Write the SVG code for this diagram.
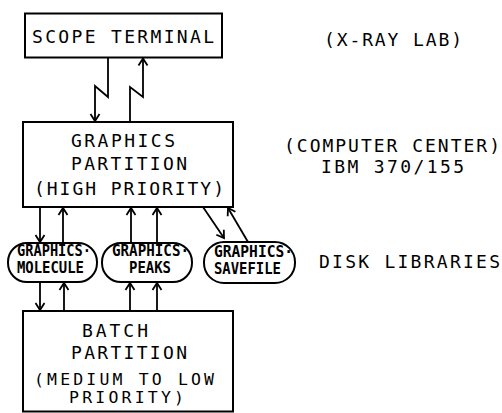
<svg xmlns="http://www.w3.org/2000/svg" width="502" height="413" viewBox="0 0 502 413">
<defs>
<style>
.box{fill:#fff;stroke:#000;stroke-width:2}
.ln{fill:none;stroke:#000;stroke-width:1.8}
.t{font-family:"DejaVu Sans Mono","Liberation Mono",monospace;font-size:18px;fill:#000}
.s{font-size:16.5px}
.p{font-family:"DejaVu Sans Mono","Liberation Mono",monospace;font-size:15px;fill:#000;font-weight:bold}
</style>
<marker id="a" viewBox="-8 -6 10 12" markerWidth="10" markerHeight="12" refX="0" refY="0" orient="auto" markerUnits="userSpaceOnUse">
<path d="M-7,-4.5 L0,0 L-7,4.5" fill="none" stroke="#000" stroke-width="1.8"/>
</marker>
</defs>
<rect width="502" height="413" fill="#fff"/>

<g id="connectors">
<polyline class="ln" points="108,57.5 108,97 95,86 95,121" marker-end="url(#a)"/>
<polyline class="ln" points="130,122 130,87 143,97 143,58.5" marker-end="url(#a)"/>
<line class="ln" x1="40" y1="207" x2="40" y2="242" marker-end="url(#a)"/>
<line class="ln" x1="63" y1="243" x2="63" y2="208" marker-end="url(#a)"/>
<line class="ln" x1="131" y1="243" x2="131" y2="208" marker-end="url(#a)"/>
<line class="ln" x1="157" y1="243" x2="157" y2="208" marker-end="url(#a)"/>
<line class="ln" x1="203" y1="207" x2="224" y2="238" marker-end="url(#a)"/>
<line class="ln" x1="248" y1="242" x2="228" y2="208" marker-end="url(#a)"/>
<line class="ln" x1="40" y1="282" x2="40" y2="310" marker-end="url(#a)"/>
<line class="ln" x1="64" y1="311" x2="64" y2="283" marker-end="url(#a)"/>
<line class="ln" x1="130" y1="311" x2="130" y2="283" marker-end="url(#a)"/>
<line class="ln" x1="157" y1="311" x2="157" y2="283" marker-end="url(#a)"/>
</g>

<g id="scope-terminal">
<rect class="box" x="25" y="13.5" width="197" height="44"/>
<text class="t" x="32" y="43" font-size="20" textLength="182">SCOPE TERMINAL</text>
</g>

<g id="graphics-partition">
<rect class="box" x="23" y="122" width="210" height="85"/>
<text class="t" x="71" y="147" textLength="104">GRAPHICS</text>
<text class="t" x="71" y="170" textLength="116">PARTITION</text>
<text class="t" x="34" y="195" textLength="190">(HIGH PRIORITY)</text>
</g>

<g id="graphics-molecule">
<rect class="box" x="8" y="243" width="89" height="39" rx="19" ry="19"/>
<text class="p" x="17" y="256" textLength="74" lengthAdjust="spacingAndGlyphs">GRAPHICS·</text>
<text class="p" x="17" y="273" textLength="67" lengthAdjust="spacingAndGlyphs">MOLECULE</text>
</g>

<g id="graphics-peaks">
<rect class="box" x="102" y="243" width="90" height="39" rx="19" ry="19"/>
<text class="p" x="112" y="256" textLength="77" lengthAdjust="spacingAndGlyphs">GRAPHICS·</text>
<text class="p" x="129" y="273" textLength="42" lengthAdjust="spacingAndGlyphs">PEAKS</text>
</g>

<g id="graphics-savefile">
<rect class="box" x="204" y="242" width="91" height="41" rx="20" ry="20"/>
<text class="p" x="214" y="257" textLength="79" lengthAdjust="spacingAndGlyphs">GRAPHICS·</text>
<text class="p" x="214" y="274" textLength="67" lengthAdjust="spacingAndGlyphs">SAVEFILE</text>
</g>

<g id="batch-partition">
<rect class="box" x="23" y="311" width="210" height="100.5"/>
<text class="t" x="82" y="337" textLength="66">BATCH</text>
<text class="t" x="71" y="359" textLength="116">PARTITION</text>
<text class="t s" x="34" y="385" textLength="180">(MEDIUM TO LOW</text>
<text class="t s" x="69" y="403" textLength="115">PRIORITY)</text>
</g>

<g id="labels">
<text class="t" x="324" y="46" textLength="138">(X-RAY LAB)</text>
<text class="t" x="284" y="152" textLength="216">(COMPUTER CENTER)</text>
<text class="t" x="321" y="173" textLength="143">IBM 370/155</text>
<text class="t" x="319" y="268" textLength="181">DISK LIBRARIES</text>
</g>
</svg>
